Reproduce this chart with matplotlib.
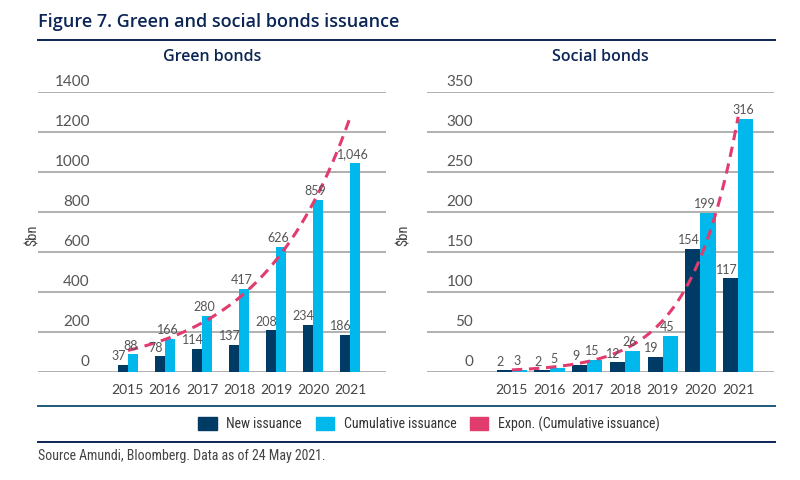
import numpy as np
import matplotlib
matplotlib.use("Agg")
import matplotlib.pyplot as plt
from matplotlib.patches import Patch
from matplotlib.lines import Line2D

years = ["2015", "2016", "2017", "2018", "2019", "2020", "2021"]
green_new = [37, 78, 114, 137, 208, 234, 186]
green_cum = [88, 166, 280, 417, 626, 859, 1046]
green_cum_labels = ["88", "166", "280", "417", "626", "859", "1,046"]
social_new = [2, 2, 9, 12, 19, 154, 117]
social_cum = [3, 5, 15, 26, 45, 199, 316]
green_yticks = [0, 200, 400, 600, 800, 1000, 1200, 1400]
social_yticks = [0, 50, 100, 150, 200, 250, 300, 350]

NAVY = "#003b66"
CYAN = "#00b8ec"
PINK = "#e23b6e"
TITLE = "#0b2555"
GRID = "#a3a3a3"
TXT = "#555555"

plt.rcParams["font.family"] = ["Lato", "DejaVu Sans"]
NARROW = ["Roboto Condensed", "Liberation Sans Narrow", "Lato", "DejaVu Sans"]
HEAD = ["Open Sans", "Lato", "DejaVu Sans"]

fig = plt.figure(figsize=(8, 4.8), dpi=100)

def panel(rect, new, cum, cum_labels, yticks, bw, xlim, title, ylab_x):
    ax = fig.add_axes(rect)
    x = np.arange(len(years))
    ax.bar(x - bw / 2, new, width=bw, color=NAVY, zorder=3)
    ax.bar(x + bw / 2, cum, width=bw, color=CYAN, zorder=3)
    # exponential trendline fitted on cumulative issuance
    b, a = np.polyfit(x, np.log(cum), 1)
    xs = np.linspace(0, len(years) - 1, 200)
    ax.plot(xs, np.exp(a + b * xs), color=PINK, lw=2.2, ls=(0, (3.4, 2.2)), zorder=4)
    for xi, v in zip(x, new):
        ax.annotate(str(v), (xi - bw / 2, v), xytext=(-3, 2), textcoords="offset points",
                    ha="center", va="bottom", fontsize=9, color=TXT, zorder=5)
    for xi, v, lab in zip(x, cum, cum_labels):
        ax.annotate(lab, (xi + bw / 2, v), xytext=(-2, 2), textcoords="offset points",
                    ha="center", va="bottom", fontsize=9, color=TXT, zorder=5)
    ax.set_xlim(*xlim)
    ax.set_ylim(0, yticks[-1])
    ax.set_yticks(yticks)
    ax.set_yticklabels([])
    ax.tick_params(axis="y", length=0)
    ax.grid(axis="y", color=GRID, lw=1.2, zorder=0)
    ax.set_axisbelow(True)
    for yt in yticks:
        ax.annotate(str(yt), (-1.03, yt), xytext=(0, 2.5), textcoords="offset points",
                    ha="right", va="bottom", fontsize=11, color=TXT)
    ax.set_xticks(x)
    ax.set_xticklabels(years, fontsize=10, color="#444444")
    ax.tick_params(axis="x", length=0, pad=9)
    for s in ax.spines.values():
        s.set_visible(False)
    ax.set_title(title, fontsize=11.5, fontweight="semibold", color=TITLE, pad=22, family=HEAD)
    fig.text(ylab_x, 1 - 235 / 480, "$bn", rotation=90, ha="center", va="center",
             fontsize=10.5, color="#444444", family=NARROW)
    return ax

bottom = 1 - 372 / 480
height = 280 / 480
panel([38 / 800, bottom, 348 / 800, height], green_new, green_cum, green_cum_labels,
      green_yticks, 0.28, (-2.43, 6.97), "Green bonds", 33 / 800)
panel([427 / 800, bottom, 347 / 800, height], social_new, social_cum,
      [str(v) for v in social_cum], social_yticks, 0.40, (-2.25, 6.95), "Social bonds", 404 / 800)

fig.text(38 / 800, 1 - 22 / 480, "Figure 7. Green and social bonds issuance", fontsize=13,
         fontweight="semibold", color=TITLE, ha="left", va="center", family=HEAD)
for yy, c in [(40, TITLE), (406, "#1f5a7a"), (442, TITLE)]:
    fig.add_artist(Line2D([38 / 800, 775 / 800], [1 - yy / 480] * 2, color=c, lw=1.4))

handles = [Patch(color=NAVY, label="New issuance"),
           Patch(color=CYAN, label="Cumulative issuance"),
           Patch(color=PINK, label="Expon. (Cumulative issuance)")]
fig.legend(handles=handles, loc="center", bbox_to_anchor=(429 / 800, 1 - 424 / 480), ncol=3,
           frameon=False, prop={"family": NARROW, "size": 10}, handlelength=1.3,
           handleheight=1.0, columnspacing=1.0, handletextpad=0.7, labelcolor="#333333")

fig.text(38 / 800, 1 - 456 / 480, "Source Amundi, Bloomberg. Data as of 24 May 2021.",
         fontsize=10, color="#444444", ha="left", va="center", family=NARROW)

fig.savefig("out.png", dpi=100)
